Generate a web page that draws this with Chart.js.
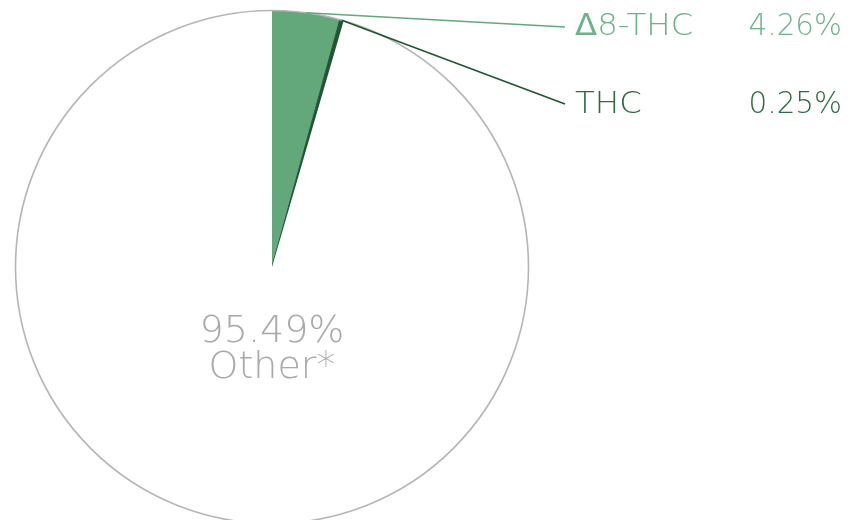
<!DOCTYPE html>
<html><head><meta charset="utf-8">
<script src="https://cdn.jsdelivr.net/npm/chart.js@4/dist/chart.umd.min.js"></script>
<style>
html,body{margin:0;padding:0;background:#fff;overflow:hidden;width:851px;height:520px}
#wrap{position:relative;width:851px;height:534px}
</style></head><body>
<div id="wrap"><canvas id="c" width="851" height="534"></canvas></div>
<script>
const categories = ["Δ8-THC", "THC", "Other*"];
const values = [4.26, 0.25, 95.49];
const valueLabels = ["4.26%", "0.25%", "95.49%"];
const fillColors = ["#62a87b", "#1f5631", "#ffffff"];
const textColors = ["#6fb189", "#2d6a43", "#a9a9a9"];

const FONT = "'DejaVu Sans', sans-serif";

function wideText(ctx, text, x, y, align, sx, size) {
  const parts = [];
  if (text[0] === 'Δ') { parts.push(['Δ', '400']); parts.push([text.slice(1), '200']); }
  else parts.push([text, '200']);
  let w = 0;
  for (const p of parts) { ctx.font = p[1] + ' ' + size + 'px ' + FONT; w += ctx.measureText(p[0]).width; }
  w *= sx;
  let left = x;
  if (align === 'center') left = x - w / 2;
  else if (align === 'right') left = x - w;
  ctx.save();
  ctx.textAlign = 'left';
  ctx.translate(left, y);
  ctx.scale(sx, 1);
  let cx = 0;
  for (const p of parts) {
    ctx.font = p[1] + ' ' + size + 'px ' + FONT;
    ctx.fillText(p[0], cx, 0);
    cx += ctx.measureText(p[0]).width;
  }
  ctx.restore();
}

const labelPlugin = {
  id: 'labels',
  afterDatasetsDraw(chart) {
    const ctx = chart.ctx;
    const meta = chart.getDatasetMeta(0);
    const arcs = meta.data;
    const a0 = arcs[0];
    ctx.save();
    ctx.beginPath();
    ctx.arc(a0.x, a0.y, a0.outerRadius, 0, Math.PI * 2);
    ctx.strokeStyle = "#b5b5b5";
    ctx.lineWidth = 1.6;
    ctx.stroke();
    ctx.restore();

    const lineY = [27, 104];
    const textY = [27, 105];
    const lineEndX = 565, textX = 575, valX = 842;
    for (let i = 0; i < 2; i++) {
      const a = arcs[i];
      const mid = (a.startAngle + a.endAngle) / 2;
      const sx = a.x + Math.cos(mid) * a.outerRadius;
      const sy = a.y + Math.sin(mid) * a.outerRadius;
      ctx.save();
      ctx.beginPath();
      ctx.moveTo(sx, sy);
      ctx.lineTo(lineEndX, lineY[i]);
      ctx.strokeStyle = fillColors[i];
      ctx.lineWidth = 1.6;
      ctx.stroke();
      ctx.fillStyle = textColors[i];
      ctx.textBaseline = "middle";
      wideText(ctx, categories[i], textX, textY[i], 'left', 1.08, 30);
      wideText(ctx, valueLabels[i], valX, textY[i], 'right', 0.98, 30);
      ctx.restore();
    }
    ctx.save();
    ctx.fillStyle = textColors[2];
    ctx.textBaseline = "alphabetic";
    wideText(ctx, valueLabels[2], a0.x, 342, 'center', 1.0, 38);
    wideText(ctx, categories[2], a0.x, 378, 'center', 1.0, 38);
    ctx.restore();
  }
};

new Chart(document.getElementById('c'), {
  type: 'pie',
  data: {
    labels: categories,
    datasets: [{
      data: values,
      backgroundColor: fillColors,
      borderColor: ["#62a87b", "#1f5631", "#b5b5b5"],
      borderWidth: [0, 1, 0],
    }]
  },
  options: {
    responsive: false,
    animation: false,
    layout: { padding: { left: 15, top: 10, right: 322, bottom: 10 } },
    plugins: { legend: { display: false }, tooltip: { enabled: false } }
  },
  plugins: [labelPlugin]
});
</script>
</body></html>
